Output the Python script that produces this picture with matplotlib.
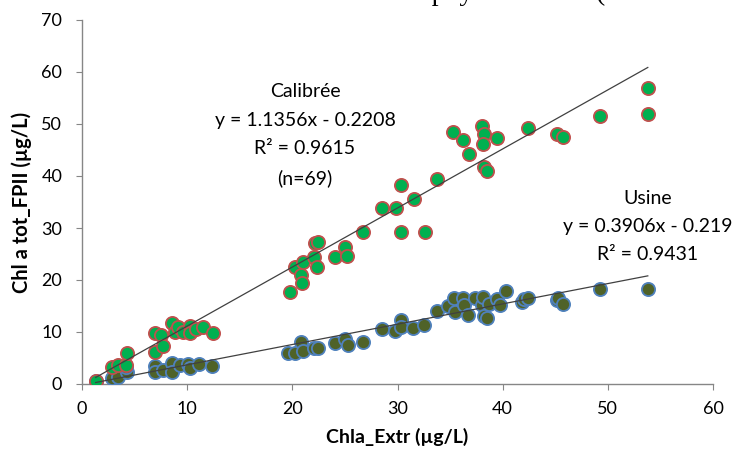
import matplotlib
matplotlib.use("Agg")
import matplotlib.pyplot as plt
import numpy as np

# ---- data ----
x_cal = [1.3, 2.9, 3.4, 4.2, 4.3, 6.9, 7.5, 6.9, 7.7, 8.6, 8.8, 9.1, 9.6, 10.3, 10.3, 10.8, 11.5, 12.5,
         19.8, 20.3, 20.8, 20.9, 21.0, 22.1, 22.2, 22.3, 22.4, 24.1, 25.0, 25.2, 26.7, 28.5, 29.9, 30.3,
         30.3, 31.6, 32.6, 33.8, 35.3, 36.2, 36.8, 38.0, 38.2, 38.1, 38.2, 38.5, 39.5, 42.4, 45.2, 45.7,
         49.3, 53.8, 53.8]
y_cal = [0.6, 3.3, 3.7, 3.7, 6.0, 9.8, 9.4, 6.2, 7.3, 11.7, 10.0, 11.0, 10.0, 11.2, 9.8, 10.6, 11.0, 9.8,
         17.7, 22.5, 21.0, 19.4, 23.5, 24.4, 27.1, 22.5, 27.3, 24.4, 26.3, 24.6, 29.2, 33.8, 33.8, 38.3,
         29.2, 35.6, 29.2, 39.4, 48.5, 46.9, 44.2, 49.6, 48.1, 46.2, 41.7, 41.0, 47.3, 49.2, 48.1, 47.5,
         51.5, 56.9, 51.9]

x_usi = [1.3, 2.9, 3.4, 4.3, 4.2, 6.9, 6.9, 7.7, 8.6, 8.6, 9.3, 10.1, 10.3, 11.1, 12.4,
         19.6, 20.3, 20.8, 21.0, 22.1, 22.4, 24.1, 25.0, 25.3, 26.7, 28.5, 29.8, 30.3, 30.3, 31.5, 32.5,
         33.8, 34.8, 35.4, 35.5, 36.2, 36.3, 36.7, 37.4, 38.0, 38.1, 38.2, 38.5, 38.7, 39.5, 39.7, 40.3,
         41.8, 42.0, 42.4, 45.2, 45.3, 45.7, 49.3, 53.8]
y_usi = [0.5, 1.2, 1.4, 2.3, 3.2, 3.4, 2.3, 2.7, 4.0, 2.3, 3.7, 3.8, 3.1, 3.8, 3.5,
         5.9, 5.9, 8.1, 6.4, 6.9, 6.9, 7.9, 8.7, 7.5, 8.1, 10.6, 10.2, 12.3, 11.0, 10.8, 11.3,
         14.0, 15.0, 16.5, 13.9, 16.5, 15.2, 13.3, 16.5, 15.2, 16.7, 13.1, 12.7, 15.4, 16.3, 15.2, 17.9,
         15.8, 16.3, 16.5, 16.2, 16.5, 15.4, 18.3, 18.3]

fit_cal = (1.1356, -0.2208)
fit_usi = (0.3906, -0.219)

label_cal = "Calibrée\ny = 1.1356x - 0.2208\nR² = 0.9615\n(n=69)"
label_usi = "Usine\ny = 0.3906x - 0.219\nR² = 0.9431"
xlabel = "Chla_Extr (µg/L)"
ylabel = "Chl a tot_FPII (µg/L)"
title = "Chlorophylle a totale (FPII vs Extr)"

# ---- figure ----
plt.rcParams['font.family'] = ['Lato', 'DejaVu Sans']
fig = plt.figure(figsize=(7.38, 4.5), dpi=100)
ax = fig.add_axes([82/738, 1 - 384/450, (713-82)/738, (384-20)/450])

ax.scatter(x_usi, y_usi, s=90, facecolor='#4F6228', edgecolor='#4F81BD', linewidth=1.3, zorder=3)
ax.scatter(x_cal, y_cal, s=90, facecolor='#00B050', edgecolor='#C0504D', linewidth=1.3, zorder=4)

for xs, (m, b) in ((x_cal, fit_cal), (x_usi, fit_usi)):
    xx = np.array([min(xs), max(xs)])
    ax.plot(xx, m * xx + b, color='#404040', linewidth=0.9, zorder=5)

ax.set_xlim(0, 60)
ax.set_ylim(0, 70)
ax.set_xticks(np.arange(0, 61, 10))
ax.set_yticks(np.arange(0, 71, 10))
for s in ('top', 'right'):
    ax.spines[s].set_visible(False)
for s in ('left', 'bottom'):
    ax.spines[s].set_color('#868686')
    ax.spines[s].set_linewidth(1.0)
ax.tick_params(axis='both', direction='out', length=4.3, color='#868686', labelsize=13, labelcolor='#000000')
ax.tick_params(axis='x', pad=8)
ax.tick_params(axis='y', pad=10)

ax.set_xlabel(xlabel, fontsize=14, fontweight='bold', labelpad=8)
ax.set_ylabel(ylabel, fontsize=14.5, fontweight='bold', labelpad=7)

ax.text(21.2, 57.8, label_cal, ha='center', va='top', fontsize=14, linespacing=1.8)
ax.text(53.8, 37.3, label_usi, ha='center', va='top', fontsize=14, linespacing=1.8)

fig.text(355/738, 1.0, title, ha='left', va='baseline', fontsize=20,
         family=['Liberation Serif', 'DejaVu Serif'])

fig.savefig("out.png", dpi=100)
